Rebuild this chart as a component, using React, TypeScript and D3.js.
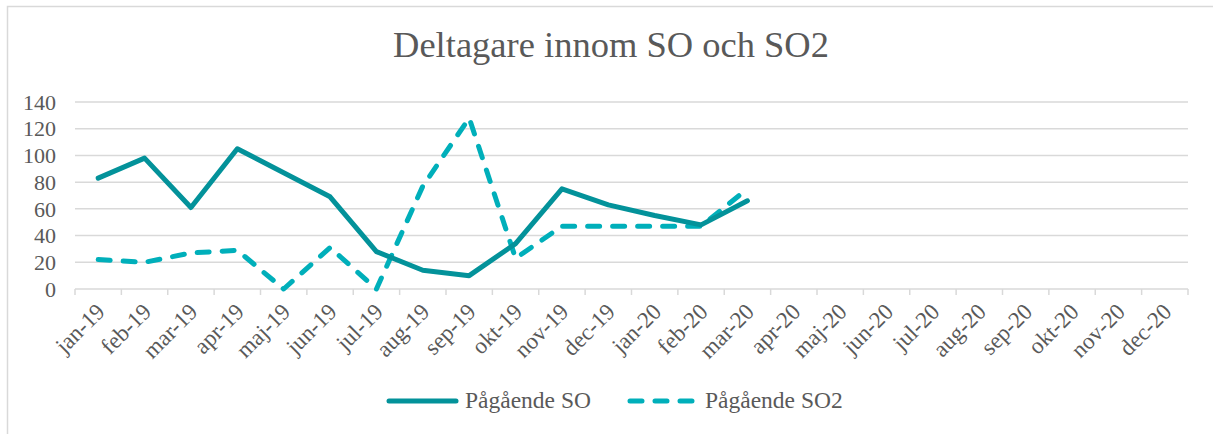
import { useRef, useEffect } from "react";
import * as d3 from "d3";

const months = [
  "jan-19", "feb-19", "mar-19", "apr-19", "maj-19", "jun-19", "jul-19", "aug-19",
  "sep-19", "okt-19", "nov-19", "dec-19", "jan-20", "feb-20", "mar-20", "apr-20",
  "maj-20", "jun-20", "jul-20", "aug-20", "sep-20", "okt-20", "nov-20", "dec-20",
];
// values only exist up to mar-20
const pagaendeSO = [83, 98, 61, 105, 87, 69, 28, 14, 10, 34, 75, 63, 55, 48, 66];
const pagaendeSO2 = [22, 20, 27, 29, 0, 31, 0, 77, 128, 23, 47, 47, 47, 47, 75];
const yTicks = [0, 20, 40, 60, 80, 100, 120, 140];

const W = 1213;
const H = 434;
const FONT = "'Liberation Serif', 'Times New Roman', serif";
const TEXT = "#595959";
const C_SO = "#03929A";
const C_SO2 = "#00AFBA";

const App = () => {
  const ref = useRef<SVGSVGElement>(null);

  useEffect(() => {
    if (!ref.current) return;
    const svg = d3.select(ref.current);
    svg.selectAll("*").remove();

    const left = 75;
    const right = 1188;
    const top = 102;
    const bottom = 289;

    const x = d3.scaleBand().domain(months).range([left, right]);
    const y = d3.scaleLinear().domain([0, 140]).range([bottom, top]);
    const cx = (m: string) => x(m)! + x.bandwidth() / 2;

    // outer frame
    svg.append("rect")
      .attr("x", 7.5).attr("y", 6.5)
      .attr("width", W + 20).attr("height", H + 20)
      .attr("fill", "#fff").attr("stroke", "#d9d9d9").attr("stroke-width", 1.5);

    svg.append("text")
      .attr("x", 611).attr("y", 57)
      .attr("text-anchor", "middle")
      .attr("font-family", FONT).attr("font-size", 36.5)
      .attr("fill", TEXT)
      .text("Deltagare innom SO och SO2");

    // grid
    svg.append("g")
      .selectAll("line")
      .data(yTicks.filter((t) => t > 0))
      .join("line")
      .attr("x1", left).attr("x2", right)
      .attr("y1", (d) => y(d)).attr("y2", (d) => y(d))
      .attr("stroke", "#d9d9d9").attr("stroke-width", 1.5);

    svg.append("g")
      .selectAll("text")
      .data(yTicks)
      .join("text")
      .attr("x", 56).attr("y", (d) => y(d))
      .attr("dy", "0.35em")
      .attr("text-anchor", "end")
      .attr("font-family", FONT).attr("font-size", 22)
      .attr("fill", TEXT)
      .text((d) => d);

    // x axis
    svg.append("line")
      .attr("x1", left).attr("x2", right)
      .attr("y1", bottom).attr("y2", bottom)
      .attr("stroke", "#d9d9d9").attr("stroke-width", 1.5);
    svg.append("g")
      .selectAll("line")
      .data([...months.map((m) => x(m)!), right])
      .join("line")
      .attr("x1", (d) => d).attr("x2", (d) => d)
      .attr("y1", bottom).attr("y2", bottom + 6)
      .attr("stroke", "#d9d9d9").attr("stroke-width", 1.5);

    svg.append("g")
      .selectAll("text")
      .data(months)
      .join("text")
      .attr("transform", (d) => `translate(${cx(d) + 8},${bottom + 24}) rotate(-45)`)
      .attr("text-anchor", "end")
      .attr("font-family", FONT).attr("font-size", 23)
      .attr("fill", TEXT)
      .text((d) => d);

    const line = d3.line<number>()
      .x((_, i) => cx(months[i]))
      .y((d) => y(d));

    svg.append("path")
      .attr("d", line(pagaendeSO2))
      .attr("fill", "none").attr("stroke", C_SO2).attr("stroke-width", 5)
      .attr("stroke-dasharray", "12,13").attr("stroke-linecap", "round")
      .attr("stroke-linejoin", "round");

    svg.append("path")
      .attr("d", line(pagaendeSO))
      .attr("fill", "none").attr("stroke", C_SO).attr("stroke-width", 5)
      .attr("stroke-linecap", "round").attr("stroke-linejoin", "round");

    // legend
    const ly = 401;
    svg.append("line")
      .attr("x1", 389).attr("x2", 456).attr("y1", ly).attr("y2", ly)
      .attr("stroke", C_SO).attr("stroke-width", 5).attr("stroke-linecap", "round");
    svg.append("text")
      .attr("x", 465).attr("y", 408)
      .attr("font-family", FONT).attr("font-size", 23.5).attr("fill", TEXT)
      .text("Pågående SO");
    svg.append("line")
      .attr("x1", 630).attr("x2", 693).attr("y1", ly).attr("y2", ly)
      .attr("stroke", C_SO2).attr("stroke-width", 5).attr("stroke-linecap", "round")
      .attr("stroke-dasharray", "12,13");
    svg.append("text")
      .attr("x", 705).attr("y", 408)
      .attr("font-family", FONT).attr("font-size", 23.5).attr("fill", TEXT)
      .text("Pågående SO2");
  }, []);

  return (
    <svg
      ref={ref}
      width={W}
      height={H}
      style={{ position: "fixed", left: 0, top: 0, display: "block", background: "#fff" }}
    ></svg>
  );
};

export default App;
